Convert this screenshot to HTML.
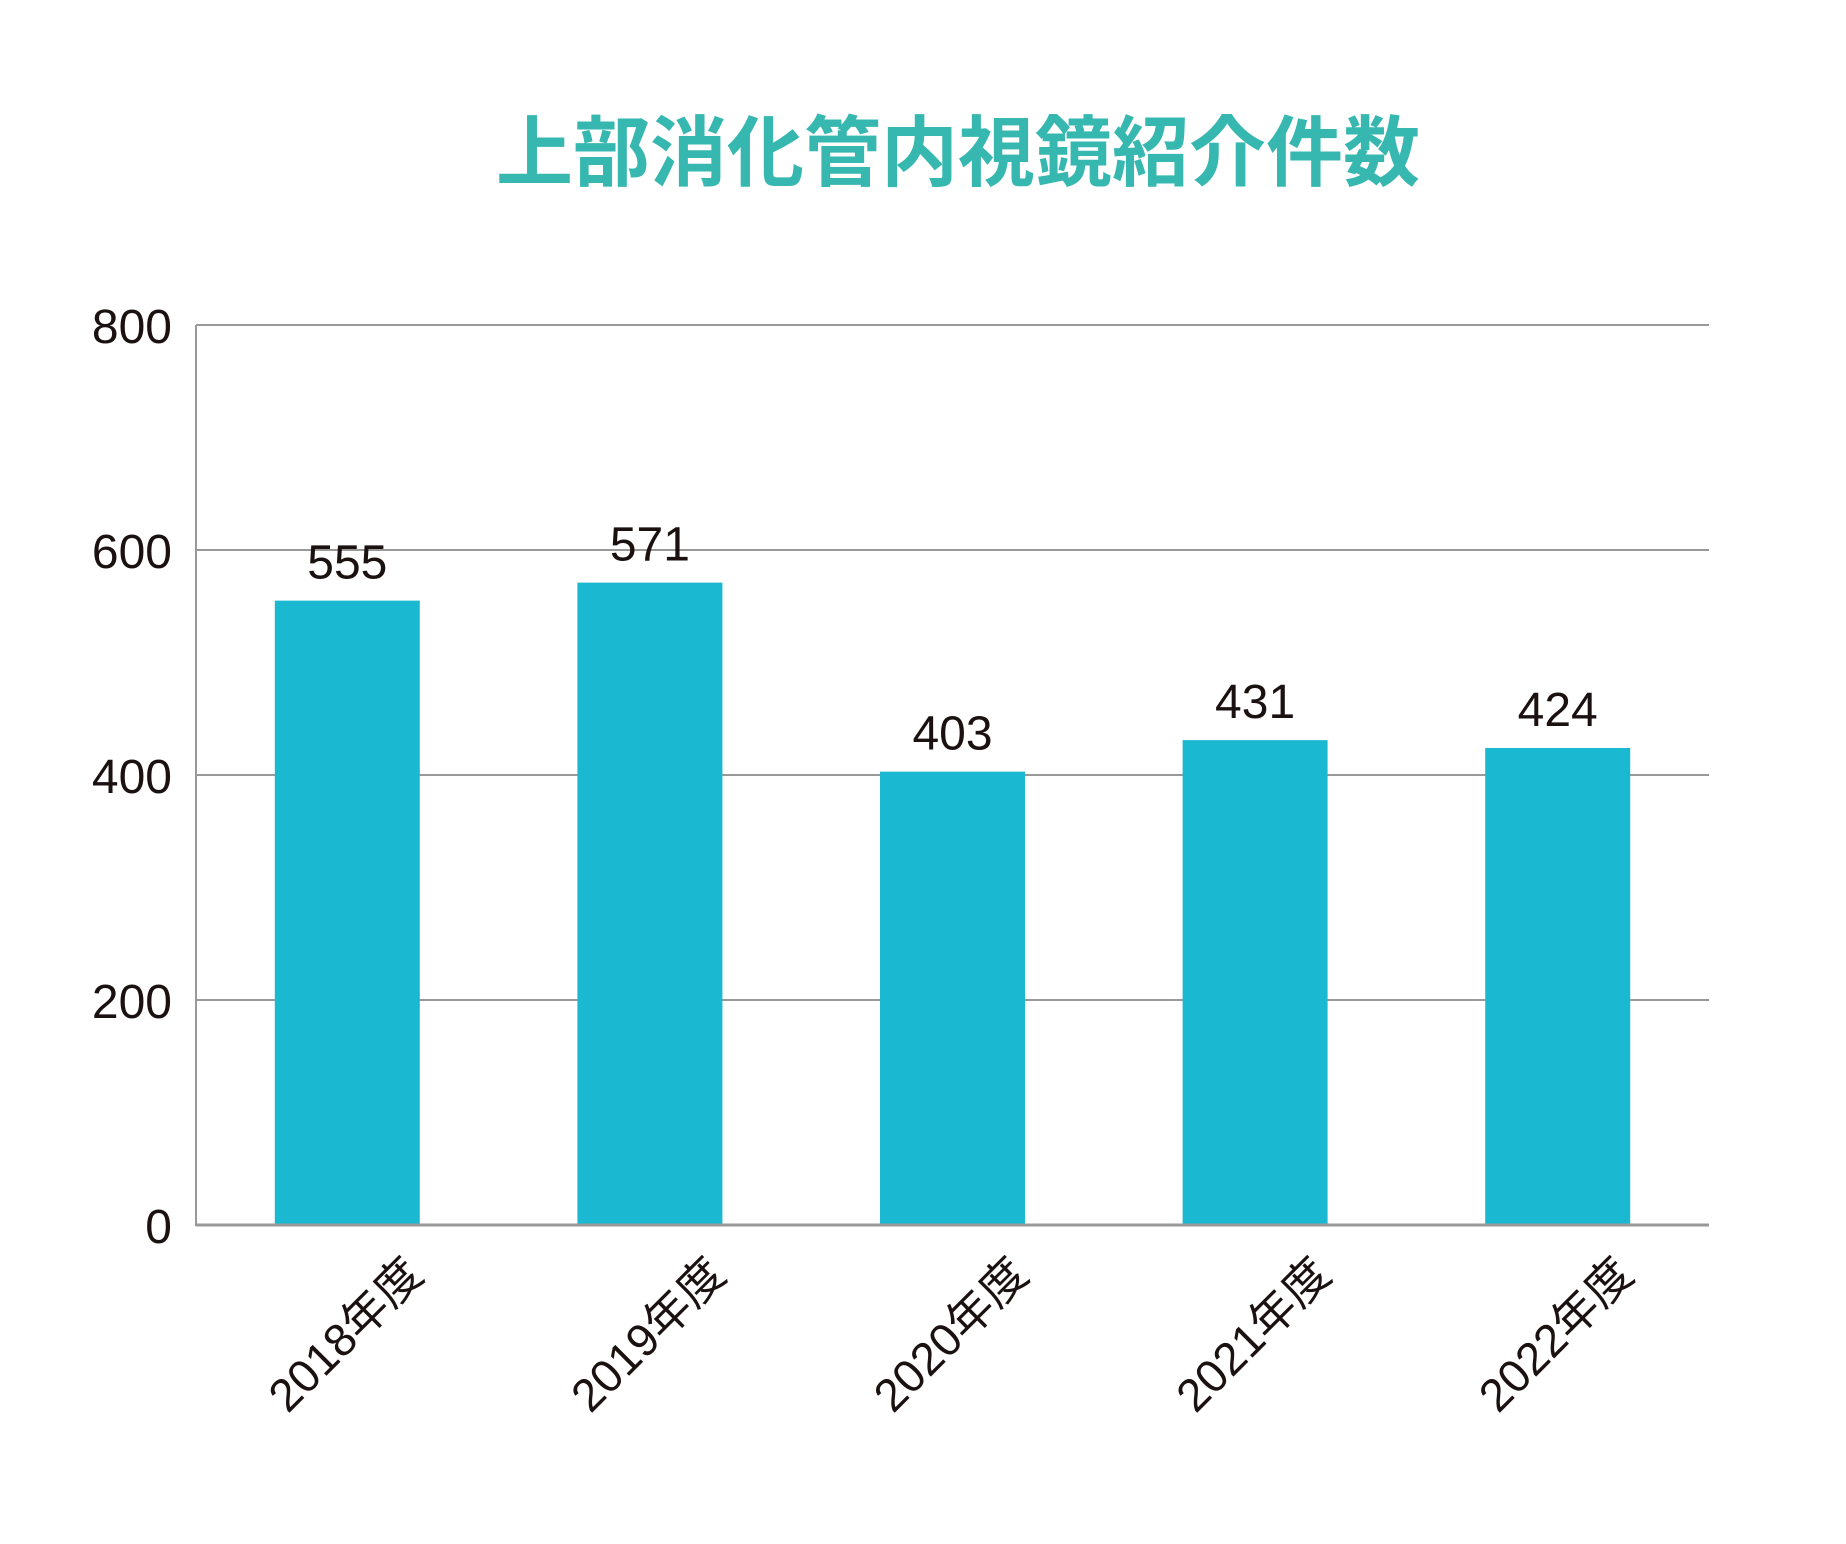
<!DOCTYPE html>
<html><head><meta charset="utf-8"><style>
body{margin:0;background:#fff;}
svg{display:block;}
text{font-family:"Liberation Sans","Noto Sans CJK JP",sans-serif;}
</style></head><body>
<svg id="chart" width="1846" height="1544" viewBox="0 0 1846 1544" xmlns="http://www.w3.org/2000/svg">
<rect width="1846" height="1544" fill="#fff"/>
<text x="958" y="180" text-anchor="middle" font-size="77" font-weight="bold" fill="#36b8b0" style="font-family:'Noto Sans CJK JP',sans-serif">上部消化管内視鏡紹介件数</text>
<g id="grid"></g><g id="bars"></g><g id="labels"></g>
</svg>
<script>
const categories = ["2018年度","2019年度","2020年度","2021年度","2022年度"];
const values = [555,571,403,431,424];
const yTicks = [0,200,400,600,800];
const yMax = 800;
const X0=196,X1=1709,Y0=1225,Y1=325,BW=145;
const ns="http://www.w3.org/2000/svg";
const svg=document.getElementById('chart');
function y(v){return Y0-(v/yMax)*(Y0-Y1);}
function xc(i){const w=(X1-X0)/categories.length;return X0+w*(i+0.5);}
function mk(t,a,p){const e=document.createElementNS(ns,t);for(const k in a)e.setAttribute(k,a[k]);p.appendChild(e);return e;}
const grid=document.getElementById('grid');
yTicks.forEach(t=>{
  const l=mk('line',{x1:X0,x2:X1,y1:y(t),y2:y(t),stroke:'#999','stroke-width':2},grid);
  
  
  const tx=mk('text',{x:172,y:y(t)+18,'text-anchor':'end','font-size':48,fill:'#1a1110'},grid);
  tx.textContent=t;
  
  
});
const ax=mk('line',{x1:X0,x2:X0,y1:Y1,y2:Y0+1,stroke:'#999','stroke-width':2},grid);


const bars=document.getElementById('bars'),labels=document.getElementById('labels');
values.forEach((v,i)=>{
  const c=xc(i);
  const r=mk('rect',{x:c-BW/2,y:y(v),width:BW,height:Y0-y(v),fill:'#1bb9d1'},bars);
  
  
  const t=mk('text',{x:c,y:y(v)-22,'text-anchor':'middle','font-size':48,fill:'#1a1110'},labels);
  t.textContent=v;
  
  
  const xl=mk('text',{x:0,y:0,'text-anchor':'end','font-size':46,fill:'#1a1110',transform:'translate('+(c+78)+','+(Y0+52)+') rotate(-45)'},labels);
  xl.textContent=categories[i];
  
  
});
const base=mk('line',{x1:X0,x2:X1,y1:Y0,y2:Y0,stroke:'#999','stroke-width':3},labels);


</script>
</body></html>
